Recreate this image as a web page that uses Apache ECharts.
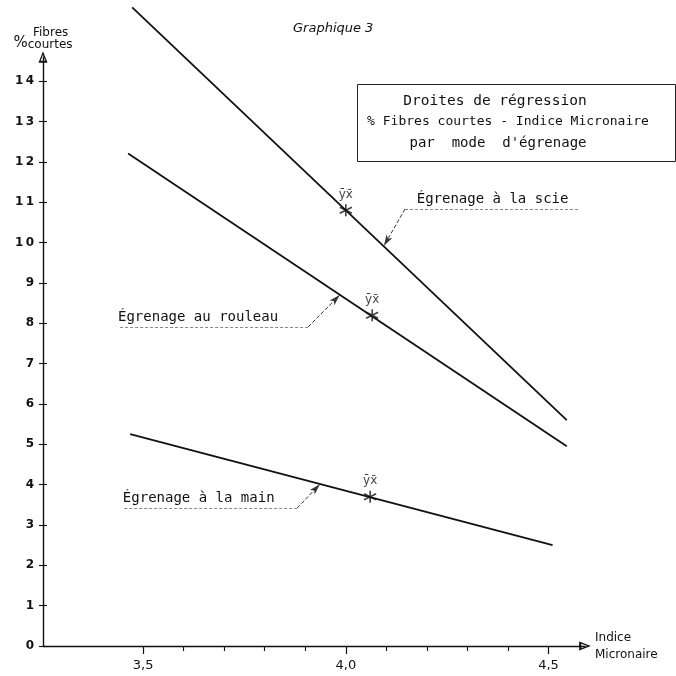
<!DOCTYPE html>
<html>
<head>
<meta charset="utf-8">
<script src="https://cdn.jsdelivr.net/npm/echarts@6/dist/echarts.min.js"></script>
<style>html,body{margin:0;padding:0;background:#fff}#c{width:676px;height:676px}</style>
</head>
<body>
<div id="c"></div>
<script>
// ---- data ----
const xMajorTicks = [3.5, 4.0, 4.5];
const xMinorTicks = [3.6, 3.7, 3.8, 3.9, 4.1, 4.2, 4.3, 4.4];
const yTicks = [0, 1, 2, 3, 4, 5, 6, 7, 8, 9, 10, 11, 12, 13, 14];
const sawLine = [[3.473, 15.83], [4.545, 5.6]];
const rollerLine = [[3.463, 12.21], [4.545, 4.95]];
const handLine = [[3.468, 5.25], [4.51, 2.5]];
const meanPoints = [[4.0, 10.8], [4.065, 8.2], [4.06, 3.7]];
const sawNote = ['Égrenage à la scie', [4.146, 10.83], [4.578, 10.83], [4.094, 9.92]];
const rollerNote = ['Égrenage au rouleau', [3.907, 7.91], [3.438, 7.91], [3.985, 8.70]];
const handNote = ['Égrenage à la main', [3.880, 3.42], [3.450, 3.42], [3.936, 4.01]];

const FONT = 'DejaVu Sans';
const MONO = 'DejaVu Sans Mono';
const INK = '#111';
const hollowArrow = 'path://M0,0L5,13L-5,13Z M0,4L-2.6,10.6L2.6,10.6Z';
const asterisk = 'path://M0,-10L0,10M-8.66,-5L8.66,5M-8.66,5L8.66,-5';

function note(n, pos) {
  return [
    [{coord: n[1], symbol: 'none', label: {show: true, formatter: n[0], position: pos, distance: [0, 3], color: INK, fontFamily: MONO, fontSize: 14}, lineStyle: {color: '#888', width: 1, type: [3, 2]}},
     {coord: n[2], symbol: 'none'}],
    [{coord: n[1], symbol: 'none', lineStyle: {color: '#333', width: 1}},
     {coord: n[3], symbol: 'arrow', symbolSize: [5, 11]}]
  ];
}

function lineSeries(data, n, pos) {
  return {
    type: 'line', data: data, symbol: 'none', clip: false,
    xAxisIndex: 0, yAxisIndex: 0,
    lineStyle: {color: INK, width: 1.8},
    markLine: {silent: true, symbol: 'none', animation: false, label: {show: false},
      lineStyle: {color: '#333'}, emphasis: {disabled: true}, data: note(n, pos)}
  };
}

const chart = echarts.init(document.getElementById('c'), null, {renderer: 'canvas'});
const xBase = {type: 'value', min: 3.253, max: 4.59, splitLine: {show: false}};
const yBase = {type: 'value', min: 0, max: 14.6, splitLine: {show: false}};
chart.setOption({
  animation: false,
  backgroundColor: '#fff',
  textStyle: {fontFamily: FONT},
  title: {text: 'Graphique 3', left: 288, top: 17,
    textStyle: {fontFamily: FONT, fontStyle: 'italic', fontWeight: 'normal', fontSize: 13, color: INK}},
  grid: {left: 43, right: 91, top: 57, bottom: 30},
  xAxis: [
    Object.assign({}, xBase, {
      position: 'bottom',
      name: 'Indice\nMicronaire', nameLocation: 'end', nameGap: 10,
      nameTextStyle: {fontFamily: FONT, fontSize: 12, color: INK, align: 'left', verticalAlign: 'middle', lineHeight: 17, padding: [4, 0, 0, 0]},
      axisLine: {show: true, symbol: ['none', hollowArrow], symbolSize: [9, 13], lineStyle: {color: INK, width: 1.4}},
      axisTick: {show: true, length: 8, customValues: xMajorTicks, lineStyle: {color: INK, width: 1.2}},
      axisLabel: {show: true, customValues: xMajorTicks, margin: 13, color: INK, fontFamily: FONT, fontSize: 13,
        formatter: v => v.toFixed(1).replace('.', ',')}
    }),
    Object.assign({}, xBase, {
      position: 'bottom',
      axisLine: {show: false},
      axisTick: {show: true, length: 5, customValues: xMinorTicks, lineStyle: {color: INK, width: 1.1}},
      axisLabel: {show: false}
    })
  ],
  yAxis: [
    Object.assign({}, yBase, {
      position: 'left',
      axisLine: {show: true, symbol: ['none', hollowArrow], symbolSize: [9, 13], lineStyle: {color: INK, width: 1.4}},
      axisTick: {show: true, length: 4, customValues: yTicks, lineStyle: {color: INK, width: 1.1}},
      axisLabel: {show: true, customValues: yTicks, margin: 9, color: INK, fontFamily: FONT, fontSize: 12, fontWeight: 'bold',
        formatter: v => String(v).split('').join('\u2009')},
      name: '{s|    }Fibres\n{p|%}courtes', nameLocation: 'end', nameGap: 6,
      nameTextStyle: {fontFamily: FONT, fontSize: 12, color: INK, align: 'center', lineHeight: 12,
        rich: {s: {fontSize: 12, color: INK}, p: {fontSize: 15, color: INK, verticalAlign: 'bottom'}}}
    }),
    Object.assign({}, yBase, {
      position: 'left', offset: -4,
      axisLine: {show: true, lineStyle: {color: 'rgba(0,0,0,0)'}},
      axisTick: {show: true, length: 4, customValues: yTicks, lineStyle: {color: INK, width: 1.1}},
      axisLabel: {show: false}
    })
  ],
  graphic: [
    {type: 'rect', left: 355, top: 82, shape: {width: 318, height: 77}, style: {fill: 'none', stroke: '#222', lineWidth: 1}},
    {type: 'text', x: 495, y: 101, style: {text: 'Droites de régression', align: 'center', verticalAlign: 'middle', font: '14.5px "DejaVu Sans Mono"', fill: INK}},
    {type: 'text', x: 508, y: 122, style: {text: '% Fibres courtes - Indice Micronaire', align: 'center', verticalAlign: 'middle', font: '13px "DejaVu Sans Mono"', fill: INK}},
    {type: 'text', x: 498, y: 143, style: {text: "par  mode  d'égrenage", align: 'center', verticalAlign: 'middle', font: '14px "DejaVu Sans Mono"', fill: INK}}
  ],
  series: [
    lineSeries(sawLine, sawNote, 'insideMiddleTop'),
    lineSeries(rollerLine, rollerNote, 'insideEndTop'),
    lineSeries(handLine, handNote, 'insideEndTop'),
    {
      type: 'scatter', data: meanPoints, symbol: asterisk, symbolSize: 12, clip: false,
      itemStyle: {color: INK, borderColor: INK, borderWidth: 1.6},
      label: {show: true, position: 'top', distance: 3, formatter: 'ȳx̄', color: INK, fontFamily: FONT, fontSize: 12},
      emphasis: {disabled: true}
    }
  ]
});
</script>
</body>
</html>
